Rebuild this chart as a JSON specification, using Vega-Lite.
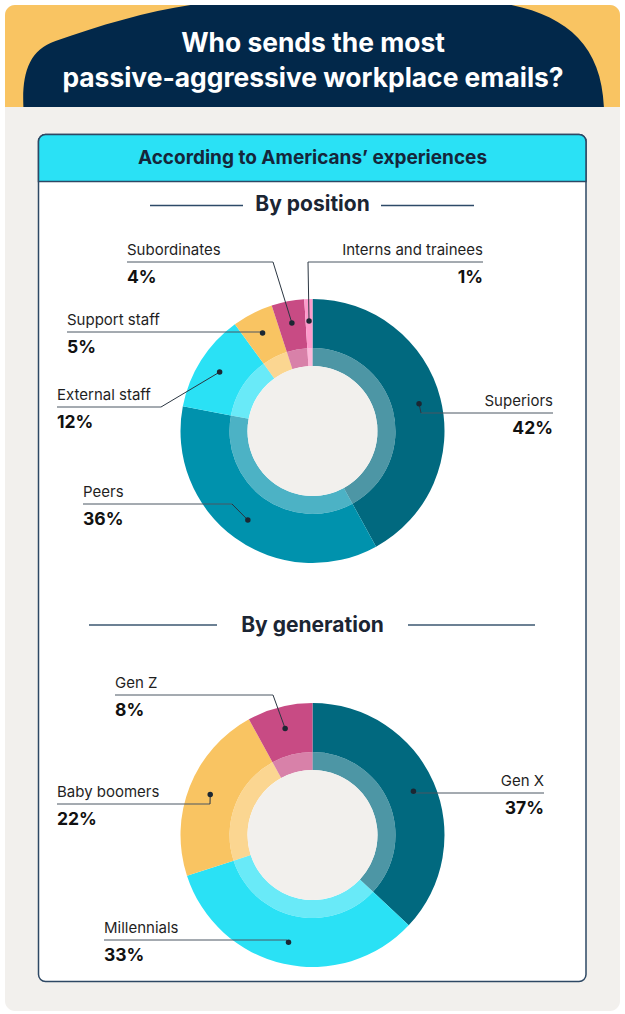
{
  "$schema": "https://vega.github.io/schema/vega-lite/v6.json",
  "width": 625,
  "height": 1014,
  "autosize": {"type": "fit", "contains": "padding"},
  "padding": 0,
  "background": "#ffffff",
  "config": {"view": {"stroke": null}, "font": "Inter", "text": {"font": "Inter"}},
  "datasets": {
    "slices": [
      {"group": "position", "category": "Superiors", "share": 42, "order": 1, "side": "right", "labelX": 553, "labelY": 413, "elbowX": 421},
      {"group": "position", "category": "Peers", "share": 36, "order": 2, "side": "left", "labelX": 83, "labelY": 504, "elbowX": 232},
      {"group": "position", "category": "External staff", "share": 12, "order": 3, "side": "left", "labelX": 57, "labelY": 407, "elbowX": 161},
      {"group": "position", "category": "Support staff", "share": 5, "order": 4, "side": "left", "labelX": 67, "labelY": 332, "elbowX": 261},
      {"group": "position", "category": "Subordinates", "share": 4, "order": 5, "side": "left", "labelX": 127, "labelY": 262, "elbowX": 273},
      {"group": "position", "category": "Interns and trainees", "share": 1, "order": 6, "side": "right", "labelX": 483, "labelY": 262, "elbowX": 308},
      {"group": "generation", "category": "Gen X", "share": 37, "order": 1, "side": "right", "labelX": 544, "labelY": 793, "elbowX": 413},
      {"group": "generation", "category": "Millennials", "share": 33, "order": 2, "side": "left", "labelX": 104, "labelY": 940, "elbowX": 287},
      {"group": "generation", "category": "Baby boomers", "share": 22, "order": 3, "side": "left", "labelX": 57, "labelY": 804, "elbowX": 210},
      {"group": "generation", "category": "Gen Z", "share": 8, "order": 4, "side": "left", "labelX": 115, "labelY": 695, "elbowX": 273}
    ]
  },
  "layer": [
    {
      "data": {"values": [{}]},
      "mark": {"type": "rect", "fill": "#f2f0ed", "cornerRadius": 10},
      "encoding": {
        "x": {"datum": 5, "type": "quantitative", "scale": {"domain": [0, 625], "nice": false, "zero": false}, "axis": null},
        "x2": {"datum": 620},
        "y": {"datum": 5, "type": "quantitative", "scale": {"domain": [0, 1014], "nice": false, "zero": false, "reverse": true}, "axis": null},
        "y2": {"datum": 1011}
      }
    },
    {
      "data": {"values": [{}]},
      "mark": {"type": "rect", "fill": "#f9c462", "cornerRadiusTopLeft": 10, "cornerRadiusTopRight": 10},
      "encoding": {
        "x": {"datum": 5, "type": "quantitative", "axis": null},
        "x2": {"datum": 620},
        "y": {"datum": 5, "type": "quantitative", "axis": null},
        "y2": {"datum": 107}
      }
    },
    {
      "data": {"values": [{}]},
      "mark": {"type": "point", "shape": "M -0.967 0.17 C -0.972 0.06 -0.95 -0.02 -0.86 -0.05 C -0.72 -0.1 -0.55 -0.15 -0.41 -0.17 L 0.66 -0.17 C 0.85 -0.13 0.96 -0.03 0.968 0.17 Z", "size": 360000, "filled": true, "fill": "#02284a", "opacity": 1, "strokeWidth": 0},
      "encoding": {
        "x": {"datum": 313.5, "type": "quantitative", "axis": null},
        "y": {"datum": 56, "type": "quantitative", "axis": null}
      }
    },
    {
      "data": {"values": [{"line": "Who sends the most", "ty": 52}, {"line": "passive-aggressive workplace emails?", "ty": 87}]},
      "mark": {"type": "text", "color": "#ffffff", "fontSize": 26.4, "fontWeight": 700, "align": "center", "baseline": "alphabetic"},
      "encoding": {
        "x": {"datum": 313, "type": "quantitative", "axis": null},
        "y": {"field": "ty", "type": "quantitative", "axis": null, "stack": null},
        "text": {"field": "line"}
      }
    },
    {
      "data": {"values": [{}]},
      "mark": {"type": "rect", "fill": "#ffffff", "stroke": "#2e4864", "strokeWidth": 1.5, "cornerRadius": 7},
      "encoding": {
        "x": {"datum": 38.5, "type": "quantitative", "axis": null},
        "x2": {"datum": 586},
        "y": {"datum": 134.5, "type": "quantitative", "axis": null},
        "y2": {"datum": 981.5}
      }
    },
    {
      "data": {"values": [{}]},
      "mark": {"type": "rect", "fill": "#2ae1f5", "stroke": "#2e4864", "strokeWidth": 1.5, "cornerRadiusTopLeft": 7, "cornerRadiusTopRight": 7},
      "encoding": {
        "x": {"datum": 38.5, "type": "quantitative", "axis": null},
        "x2": {"datum": 586},
        "y": {"datum": 134.5, "type": "quantitative", "axis": null},
        "y2": {"datum": 181.5}
      }
    },
    {
      "data": {"values": [{}]},
      "mark": {"type": "text", "text": "According to Americans’ experiences", "color": "#15263a", "fontSize": 19, "fontWeight": 700, "align": "center", "baseline": "alphabetic"},
      "encoding": {
        "x": {"datum": 312.5, "type": "quantitative", "axis": null},
        "y": {"datum": 164, "type": "quantitative", "axis": null}
      }
    },
    {
      "data": {"values": [{"t": "By position", "ty": 211}, {"t": "By generation", "ty": 632}]},
      "mark": {"type": "text", "color": "#1b2533", "fontSize": 21, "fontWeight": 700, "align": "center", "baseline": "alphabetic"},
      "encoding": {
        "x": {"datum": 312.5, "type": "quantitative", "axis": null},
        "y": {"field": "ty", "type": "quantitative", "axis": null, "stack": null},
        "text": {"field": "t"}
      }
    },
    {
      "data": {"values": [{}]},
      "mark": {"type": "rule", "color": "#2d4a68", "strokeWidth": 1.5},
      "encoding": {
        "x": {"datum": 150, "type": "quantitative", "axis": null},
        "x2": {"datum": 243},
        "y": {"datum": 205.5, "type": "quantitative", "axis": null}
      }
    },
    {
      "data": {"values": [{}]},
      "mark": {"type": "rule", "color": "#2d4a68", "strokeWidth": 1.5},
      "encoding": {
        "x": {"datum": 381, "type": "quantitative", "axis": null},
        "x2": {"datum": 474},
        "y": {"datum": 205.5, "type": "quantitative", "axis": null}
      }
    },
    {
      "data": {"values": [{}]},
      "mark": {"type": "rule", "color": "#6c8194", "strokeWidth": 2},
      "encoding": {
        "x": {"datum": 89, "type": "quantitative", "axis": null},
        "x2": {"datum": 217},
        "y": {"datum": 625, "type": "quantitative", "axis": null}
      }
    },
    {
      "data": {"values": [{}]},
      "mark": {"type": "rule", "color": "#6c8194", "strokeWidth": 2},
      "encoding": {
        "x": {"datum": 408, "type": "quantitative", "axis": null},
        "x2": {"datum": 535},
        "y": {"datum": 625, "type": "quantitative", "axis": null}
      }
    },
    {
      "data": {"name": "slices"},
      "transform": [{"filter": "datum.group === 'position'"}],
      "layer": [
        {
          "mark": {"type": "arc", "radius": 132, "radius2": 83},
          "encoding": {
            "x": {"datum": 312.5, "type": "quantitative", "axis": null},
            "y": {"datum": 431, "type": "quantitative", "axis": null},
            "theta": {"field": "share", "type": "quantitative", "stack": true},
            "order": {"field": "order", "type": "quantitative"},
            "color": {"field": "category", "type": "nominal", "legend": null,
              "scale": {"domain": ["Superiors", "Peers", "External staff", "Support staff", "Subordinates", "Interns and trainees", "Gen X", "Millennials", "Baby boomers", "Gen Z"],
                        "range": ["#01697f", "#0092ad", "#2ae1f5", "#f9c462", "#c84b84", "#fd9acb", "#01697f", "#2ae1f5", "#f9c462", "#c84b84"]}}
          }
        },
        {
          "mark": {"type": "arc", "radius": 83, "radius2": 65, "opacity": 0.7},
          "encoding": {
            "x": {"datum": 312.5, "type": "quantitative", "axis": null},
            "y": {"datum": 431, "type": "quantitative", "axis": null},
            "theta": {"field": "share", "type": "quantitative", "stack": true},
            "order": {"field": "order", "type": "quantitative"},
            "color": {"field": "category", "type": "nominal", "legend": null}
          }
        }
      ]
    },
    {
      "data": {"name": "slices"},
      "transform": [{"filter": "datum.group === 'generation'"}],
      "layer": [
        {
          "mark": {"type": "arc", "radius": 132, "radius2": 83},
          "encoding": {
            "x": {"datum": 312.5, "type": "quantitative", "axis": null},
            "y": {"datum": 835, "type": "quantitative", "axis": null},
            "theta": {"field": "share", "type": "quantitative", "stack": true},
            "order": {"field": "order", "type": "quantitative"},
            "color": {"field": "category", "type": "nominal", "legend": null}
          }
        },
        {
          "mark": {"type": "arc", "radius": 83, "radius2": 65, "opacity": 0.7},
          "encoding": {
            "x": {"datum": 312.5, "type": "quantitative", "axis": null},
            "y": {"datum": 835, "type": "quantitative", "axis": null},
            "theta": {"field": "share", "type": "quantitative", "stack": true},
            "order": {"field": "order", "type": "quantitative"},
            "color": {"field": "category", "type": "nominal", "legend": null}
          }
        }
      ]
    },
    {
      "data": {"values": [{}]},
      "mark": {"type": "arc", "radius": 65, "radius2": 0, "theta": 0, "theta2": 6.2832, "fill": "#f2f0ed"},
      "encoding": {
        "x": {"datum": 312.5, "type": "quantitative", "axis": null},
        "y": {"datum": 431, "type": "quantitative", "axis": null}
      }
    },
    {
      "data": {"values": [{}]},
      "mark": {"type": "arc", "radius": 65, "radius2": 0, "theta": 0, "theta2": 6.2832, "fill": "#f2f0ed"},
      "encoding": {
        "x": {"datum": 312.5, "type": "quantitative", "axis": null},
        "y": {"datum": 835, "type": "quantitative", "axis": null}
      }
    },
    {
      "data": {"name": "slices"},
      "transform": [
        {"window": [{"op": "sum", "field": "share", "as": "cum"}], "groupby": ["group"], "sort": [{"field": "order", "order": "ascending"}]},
        {"calculate": "(datum.cum - datum.share / 2) / 100 * 2 * PI", "as": "mid"},
        {"calculate": "312.5 + 110 * sin(datum.mid)", "as": "dotX"},
        {"calculate": "(datum.group === 'position' ? 431 : 835) - 110 * cos(datum.mid)", "as": "dotY"},
        {"calculate": "datum.share + '%'", "as": "pct"}
      ],
      "layer": [
        {
          "mark": {"type": "rule", "color": "#4b5763", "strokeWidth": 1},
          "encoding": {
            "x": {"field": "labelX", "type": "quantitative", "axis": null},
            "x2": {"field": "elbowX"},
            "y": {"field": "labelY", "type": "quantitative", "axis": null}
          }
        },
        {
          "mark": {"type": "rule", "color": "#2b3642", "strokeWidth": 1},
          "encoding": {
            "x": {"field": "elbowX", "type": "quantitative", "axis": null},
            "x2": {"field": "dotX"},
            "y": {"field": "labelY", "type": "quantitative", "axis": null},
            "y2": {"field": "dotY"}
          }
        },
        {
          "mark": {"type": "point", "filled": true, "size": 30, "color": "#1b2733", "opacity": 1, "strokeWidth": 0},
          "encoding": {
            "x": {"field": "dotX", "type": "quantitative", "axis": null},
            "y": {"field": "dotY", "type": "quantitative", "axis": null}
          }
        },
        {
          "transform": [{"filter": "datum.side === 'left'"}],
          "mark": {"type": "text", "align": "left", "baseline": "alphabetic", "dy": -7, "fontSize": 15, "color": "#1f1f1f"},
          "encoding": {
            "x": {"field": "labelX", "type": "quantitative", "axis": null},
            "y": {"field": "labelY", "type": "quantitative", "axis": null},
            "text": {"field": "category"}
          }
        },
        {
          "transform": [{"filter": "datum.side === 'right'"}],
          "mark": {"type": "text", "align": "right", "baseline": "alphabetic", "dy": -7, "fontSize": 15, "color": "#1f1f1f"},
          "encoding": {
            "x": {"field": "labelX", "type": "quantitative", "axis": null},
            "y": {"field": "labelY", "type": "quantitative", "axis": null},
            "text": {"field": "category"}
          }
        },
        {
          "transform": [{"filter": "datum.side === 'left'"}],
          "mark": {"type": "text", "align": "left", "baseline": "alphabetic", "dy": 21, "fontSize": 17.5, "fontWeight": 700, "color": "#111111"},
          "encoding": {
            "x": {"field": "labelX", "type": "quantitative", "axis": null},
            "y": {"field": "labelY", "type": "quantitative", "axis": null},
            "text": {"field": "pct"}
          }
        },
        {
          "transform": [{"filter": "datum.side === 'right'"}],
          "mark": {"type": "text", "align": "right", "baseline": "alphabetic", "dy": 21, "fontSize": 17.5, "fontWeight": 700, "color": "#111111"},
          "encoding": {
            "x": {"field": "labelX", "type": "quantitative", "axis": null},
            "y": {"field": "labelY", "type": "quantitative", "axis": null},
            "text": {"field": "pct"}
          }
        }
      ]
    }
  ]
}
